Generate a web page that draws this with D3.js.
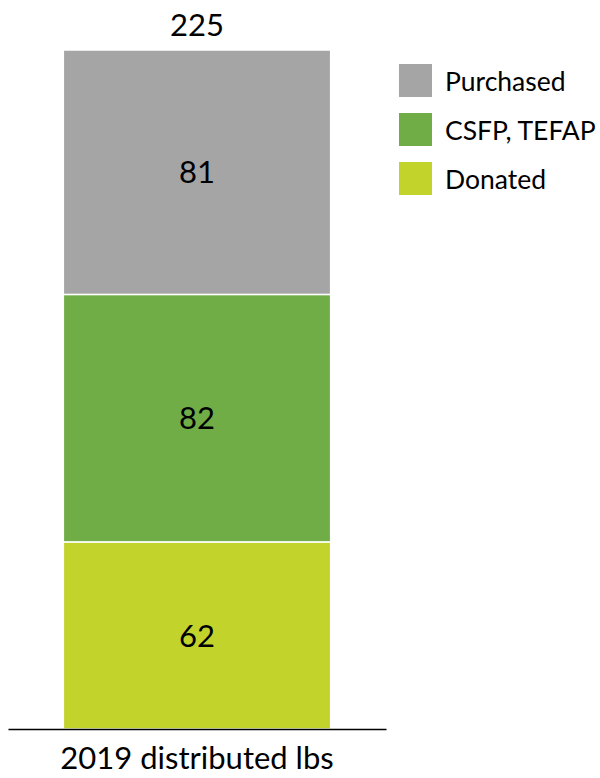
<!DOCTYPE html>
<html><head><meta charset="utf-8">
<script src="https://cdn.jsdelivr.net/npm/d3@7"></script>
<style>body{margin:0;background:#fff}svg{display:block}</style>
</head><body>
<div id="chart"></div>
<script>
const categories = ["2019 distributed lbs"];
const seriesNames = ["Donated", "CSFP, TEFAP", "Purchased"];
const donated = [62];
const csfp = [82];
const purchased = [81];
const totals = [225];
const colors = ["#C2D32C", "#70AD47", "#A5A5A5"];
const legendOrder = ["Purchased", "CSFP, TEFAP", "Donated"];

const W = 600, H = 778;
const font = "Lato, 'Open Sans', sans-serif";
const svg = d3.select("#chart").append("svg").attr("width", W).attr("height", H);

const rows = categories.map((c, i) => ({cat: c, "Donated": donated[i], "CSFP, TEFAP": csfp[i], "Purchased": purchased[i], total: totals[i]}));
const stack = d3.stack().keys(seriesNames)(rows);

const x = d3.scaleBand().domain(categories).range([8, 386]).paddingInner(0).paddingOuter(0.207);
const y = d3.scaleLinear().domain([0, 225]).range([729, 50]);
const color = d3.scaleOrdinal().domain(seriesNames).range(colors);

const g = svg.append("g");
stack.forEach(s => {
  s.forEach(d => {
    g.append("rect")
      .attr("x", x(d.data.cat))
      .attr("width", x.bandwidth())
      .attr("y", y(d[1]))
      .attr("height", y(d[0]) - y(d[1]))
      .attr("fill", color(s.key))
      .attr("stroke", "#fff").attr("stroke-width", 1.5);
    g.append("text")
      .attr("x", x(d.data.cat) + x.bandwidth() / 2)
      .attr("y", (y(d[0]) + y(d[1])) / 2)
      .attr("dy", "0.36em")
      .attr("text-anchor", "middle")
      .attr("font-family", font).attr("font-size", 31)
      .attr("fill", "#000")
      .text(d[1] - d[0]);
  });
});

rows.forEach(r => {
  svg.append("text")
    .attr("x", x(r.cat) + x.bandwidth() / 2)
    .attr("y", y(r.total) - 25)
    .attr("dy", "0.36em")
    .attr("text-anchor", "middle")
    .attr("font-family", font).attr("font-size", 31)
    .text(r.total);
});

const axis = d3.axisBottom(x).tickSize(0).tickPadding(0);
const ag = svg.append("g").attr("transform", `translate(0,${y(0)})`).call(axis);
ag.select(".domain").attr("stroke", "#000").attr("stroke-width", 1.3);
ag.selectAll("text").attr("font-family", font).attr("font-size", 31).attr("fill", "#000")
  .attr("dy", null).attr("y", 40);

const lg = svg.append("g");
legendOrder.forEach((n, i) => {
  const yy = 64 + i * 49;
  lg.append("rect").attr("x", 399).attr("y", yy).attr("width", 33).attr("height", 33).attr("fill", color(n));
  lg.append("text").attr("x", 445).attr("y", yy + 17).attr("dy", "0.36em")
    .attr("font-family", font).attr("font-size", 26.5).text(n);
});
</script>
</body></html>
